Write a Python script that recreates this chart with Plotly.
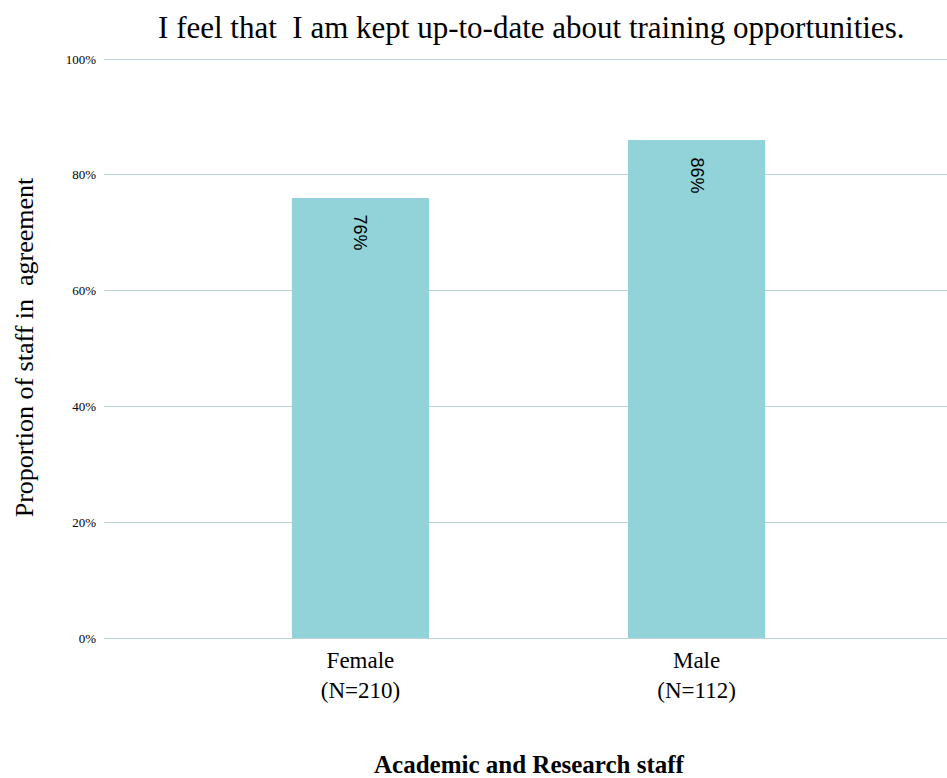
import plotly.graph_objects as go

# Survey responses: share of staff in agreement, by gender
categories = ["Female<br>(N=210)", "Male<br>(N=112)"]
agreement = [76, 86]
bar_labels = ["76%", "86%"]
y_ticks = [0, 20, 40, 60, 80, 100]
y_tick_labels = ["0%", "20%", "40%", "60%", "80%", "100%"]

serif = "Liberation Serif, Times New Roman, serif"
sans = "Liberation Sans, Arial, sans-serif"

fig = go.Figure(
    go.Bar(
        x=categories,
        y=agreement,
        marker=dict(color="#91d3d8", line=dict(width=0)),
        width=0.408,
        hoverinfo="skip",
    )
)

# Value labels, rotated and set just inside the top of each bar
for cat, val, lab in zip(categories, agreement, bar_labels):
    fig.add_annotation(
        x=cat,
        y=val,
        text=lab,
        textangle=90,
        xanchor="center",
        yanchor="top",
        yshift=-15,
        showarrow=False,
        font=dict(family=sans, size=18, color="#000000"),
    )

fig.update_layout(
    width=947,
    height=778,
    margin=dict(l=104, r=0, t=57, b=140),
    paper_bgcolor="white",
    plot_bgcolor="white",
    showlegend=False,
    title=dict(
        text="I feel that  I am kept up-to-date about training opportunities.",
        font=dict(family=serif, size=31, color="#000000"),
        x=0.561,
        xanchor="center",
        y=0.965,
        yanchor="middle",
    ),
    font=dict(family=serif, color="#000000"),
)

fig.update_xaxes(
    range=[-0.763, 1.745],
    showgrid=False,
    showline=False,
    zeroline=False,
    ticks="",
    tickfont=dict(family=serif, size=23, color="#000000"),
    ticklabelstandoff=6,
)

# A little headroom above 100% keeps the top gridline drawn
fig.update_yaxes(
    range=[0, 100.35],
    tickvals=y_ticks,
    ticktext=y_tick_labels,
    tickfont=dict(family=serif, size=13, color="#000000"),
    showgrid=True,
    gridcolor="#bcd4d7",
    gridwidth=1,
    zeroline=True,
    zerolinecolor="#bcd4d7",
    zerolinewidth=1,
    showline=False,
    ticks="",
    ticklabelstandoff=7,
    title=dict(
        text="Proportion of staff in  agreement",
        font=dict(family=serif, size=26, color="#000000"),
        standoff=24,
    ),
)

fig.add_annotation(
    text="<b>Academic and Research staff</b>",
    xref="paper",
    yref="paper",
    x=0.505,
    y=0,
    yshift=-126,
    xanchor="center",
    yanchor="middle",
    showarrow=False,
    font=dict(family=serif, size=25, color="#000000"),
)

fig.write_html("out.html")
